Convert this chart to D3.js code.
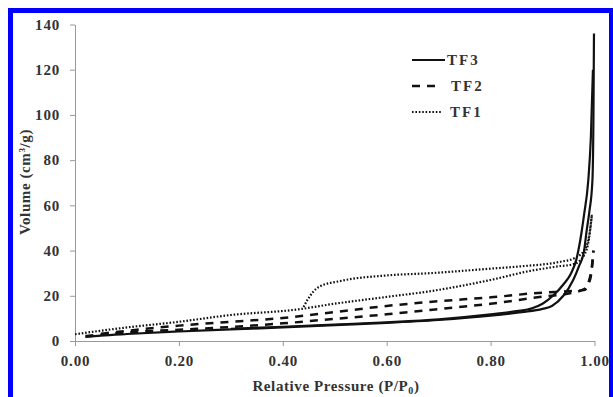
<meta charset="utf-8">
<script src="https://cdn.jsdelivr.net/npm/d3@7"></script>

<style>
  body { margin: 0; background: #fff; }
  .axis path, .axis line { stroke: #999; }
  .axis text {
    font-family: "Liberation Serif", serif;
    font-weight: bold;
    font-size: 15px;
    letter-spacing: 0.8px;
    fill: #333;
  }
  .lbl {
    font-family: "Liberation Serif", serif;
    font-weight: bold;
    font-size: 15px;
    letter-spacing: 0.6px;
    fill: #333;
  }
  .leg text { letter-spacing: 2px; }
</style>

<div id="chart"></div>

<script>
// relative pressure / volume pairs
var tf3Ads = [[0.02,1.8],[0.05,2.4],[0.1,3.1],[0.2,4.2],[0.3,5.1],[0.4,6.0],[0.5,7.0],[0.6,8.0],
  [0.7,9.3],[0.8,11.2],[0.86,12.8],[0.9,14.2],[0.918,15.5],[0.94,20],[0.959,27],[0.97,33],
  [0.98,40],[0.985,49],[0.99,57],[0.996,71],[0.998,100],[0.999,136]];
var tf3Des = [[0.3,5.4],[0.4,6.3],[0.5,7.3],[0.6,8.3],[0.7,9.6],[0.8,11.8],[0.85,13.2],[0.88,14.5],
  [0.9,16.5],[0.92,20],[0.94,25],[0.955,30],[0.965,36],[0.975,48],[0.98,56],[0.988,71],[0.993,90],[0.997,120]];

var tf2Ads = [[0.02,2.2],[0.1,3.8],[0.2,5.0],[0.3,6.2],[0.4,7.8],[0.5,9.8],[0.6,11.8],[0.683,13.7],
  [0.8,16.5],[0.9,19.6],[0.95,21],[0.98,23],[0.99,27],[0.995,33],[0.998,40]];
var tf2Des = [[0.05,3.2],[0.1,4.5],[0.2,6.8],[0.3,8.5],[0.4,10.2],[0.5,12.8],[0.6,15.5],[0.7,17.6],
  [0.8,19.3],[0.9,21.4],[0.95,22],[0.98,22.5],[0.99,26],[0.995,32],[0.998,40]];

var tf1Ads = [[0.0,3],[0.1,6],[0.2,8.5],[0.3,11.5],[0.43,14],[0.5,16.5],[0.6,19.5],[0.683,22],
  [0.8,27],[0.876,31],[0.93,33],[0.96,34],[0.98,38],[0.99,46],[0.995,56]];
var tf1Des = [[0.44,15],[0.447,18],[0.47,24],[0.51,26.5],[0.6,29],[0.683,30],[0.8,32],[0.857,33],
  [0.933,35],[0.96,36.5],[0.98,40],[0.99,47],[0.995,56]];

var xTicks = [0, 0.2, 0.4, 0.6, 0.8, 1.0];
var yTicks = [0, 20, 40, 60, 80, 100, 120, 140];
var seriesNames = ["TF3", "TF2", "TF1"];

var width = 613, height = 397;

var svg = d3.select("#chart")
  .append("svg")
    .attr("width", width)
    .attr("height", height);

// blue frame
svg.append("rect")
  .attr("x", 10.5).attr("y", 10.5)
  .attr("width", 601).attr("height", 400)
  .attr("fill", "none")
  .attr("stroke", "#0000ff")
  .attr("stroke-width", 5);

var x = d3.scaleLinear().domain([0, 1]).range([75, 594.5]);
var y = d3.scaleLinear().domain([0, 140]).range([341, 24.5]);

svg.append("g")
  .attr("class", "axis")
  .attr("transform", "translate(0," + y(0) + ")")
  .call(d3.axisBottom(x).tickValues(xTicks).tickFormat(d3.format(".2f"))
    .tickSize(5).tickSizeOuter(0).tickPadding(9));

svg.append("g")
  .attr("class", "axis")
  .attr("transform", "translate(" + x(0) + ",0)")
  .call(d3.axisLeft(y).tickValues(yTicks).tickSize(5).tickSizeOuter(0).tickPadding(10));

var line = d3.line()
  .x(function(d) { return x(d[0]); })
  .y(function(d) { return y(d[1]); })
  .curve(d3.curveMonotoneX);

var styles = {
  TF3: {dash: null, w: 2.2},
  TF2: {dash: "8,7", w: 2.5},
  TF1: {dash: "1.6,1.8", w: 2.2}
};

var branches = [
  ["TF1", tf1Ads], ["TF1", tf1Des],
  ["TF2", tf2Ads], ["TF2", tf2Des],
  ["TF3", tf3Ads], ["TF3", tf3Des]
];

branches.forEach(function(b) {
  svg.append("path")
    .attr("d", line(b[1]))
    .attr("fill", "none")
    .attr("stroke", "#111")
    .attr("stroke-width", styles[b[0]].w)
    .attr("stroke-dasharray", styles[b[0]].dash);
});

// legend
var legLen = {TF3: 33, TF2: 23, TF1: 30};
var legText = {TF3: 35, TF2: 39, TF1: 38};

var lg = svg.selectAll(".leg")
  .data(seriesNames)
  .enter()
  .append("g")
    .attr("class", "leg")
    .attr("transform", function(d, i) { return "translate(412," + (60 + i * 26) + ")"; });

lg.append("line")
  .attr("x1", 0).attr("x2", function(d) { return legLen[d]; })
  .attr("stroke", "#111")
  .attr("stroke-width", function(d) { return styles[d].w; })
  .attr("stroke-dasharray", function(d) { return styles[d].dash; });

lg.append("text")
  .attr("class", "lbl")
  .attr("x", function(d) { return legText[d]; })
  .attr("y", 5)
  .text(function(d) { return d; });

// axis titles
var xt = svg.append("text")
  .attr("class", "lbl")
  .attr("x", 336).attr("y", 391)
  .attr("text-anchor", "middle")
  .text("Relative Pressure (P/P");
xt.append("tspan").attr("dy", 3).attr("font-size", "10px").text("0");
xt.append("tspan").attr("dy", -3).text(")");

var yt = svg.append("text")
  .attr("class", "lbl")
  .attr("letter-spacing", "0.8px")
  .attr("transform", "translate(30,182) rotate(-90)")
  .attr("text-anchor", "middle")
  .text("Volume  (cm");
yt.append("tspan").attr("dy", -5).attr("font-size", "9px").text("3");
yt.append("tspan").attr("dy", 5).text("/g)");
</script>
